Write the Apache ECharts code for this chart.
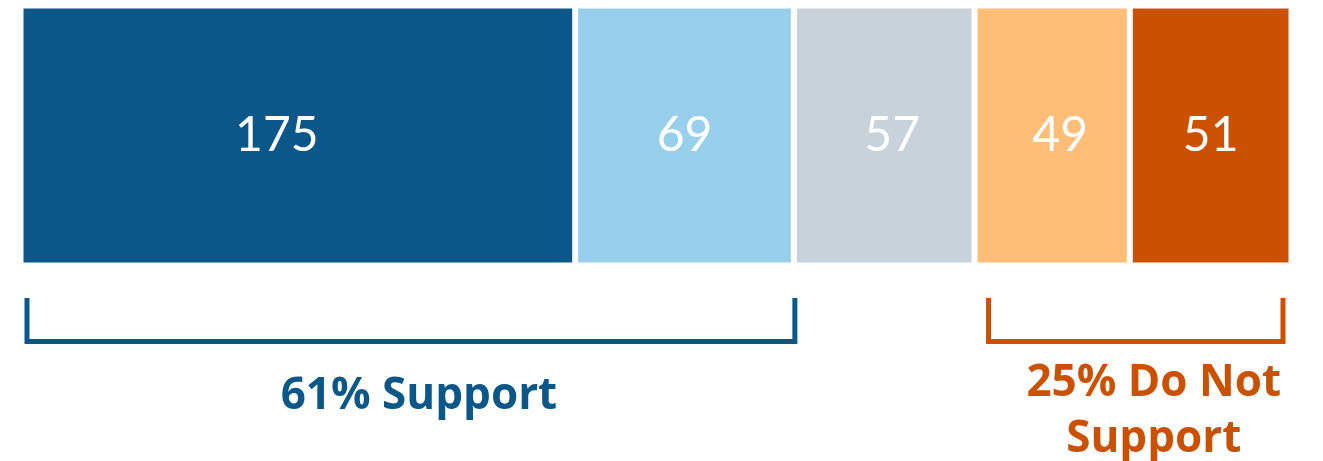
<!DOCTYPE html>
<html>
<head>
<meta charset="utf-8">
<script src="https://cdn.jsdelivr.net/npm/echarts@6/dist/echarts.min.js"></script>
<style>
  html, body { margin: 0; padding: 0; background: #ffffff; }
  #chart { width: 1323px; height: 461px; }
</style>
</head>
<body>
<div id="chart"></div>
<script>
// Response counts, left to right
const categories = ['Responses'];
const segmentNames = ['Strongly support', 'Somewhat support', 'Neutral', 'Somewhat oppose', 'Strongly oppose'];
const segmentValues = [175, 69, 57, 49, 51];

// Summary groups: which segments each bracket covers
const groupNames = ['Support', 'Do Not\nSupport'];
const groupFirst = [0, 3];
const groupLast = [1, 4];

const segmentColors = ['#0c5789', '#98cfec', '#c7d2db', '#ffbe77', '#cb5100'];
const groupColors = ['#0c5789', '#cb5100'];
const labelNudge = [-21, 0, 8, 8, 0];

const total = segmentValues.reduce((a, b) => a + b, 0);
const chart = echarts.init(document.getElementById('chart'), null, { renderer: 'canvas' });

const series = segmentValues.map((v, i) => ({
  name: segmentNames[i],
  type: 'bar',
  stack: 'all',
  barWidth: '100%',
  data: [v],
  itemStyle: { color: segmentColors[i], borderColor: '#ffffff', borderWidth: 3 },
  label: {
    show: true,
    position: 'inside',
    offset: [labelNudge[i], 0],
    color: '#ffffff',
    fontFamily: 'Lato',
    fontSize: 48,
    fontWeight: 'normal'
  },
  emphasis: { disabled: true },
  animation: false
}));

chart.setOption({
  animation: false,
  grid: { left: 20.5, width: 1271, top: 5.5, height: 260 },
  xAxis: { type: 'value', min: 0, max: total, show: false },
  yAxis: { type: 'category', data: categories, show: false },
  series: series
});

// Brackets and summary labels under the bar, placed from the value axis
const cumulative = [];
segmentValues.reduce((acc, v, i) => { cumulative[i] = [acc, acc + v]; return acc + v; }, 0);

const bracketTop = 298;
const bracketBottom = 341.5;
const inset = [[6.5, -1], [14, 8.5]];
const textPos = [{ dx: 8, y: 368 }, { dx: 18, y: 355 }];

const graphics = [];
groupNames.forEach((name, g) => {
  const from = cumulative[groupFirst[g]][0];
  const to = cumulative[groupLast[g]][1];
  let sum = 0;
  for (let i = groupFirst[g]; i <= groupLast[g]; i++) sum += segmentValues[i];
  const pct = Math.round(sum / total * 100);
  const x0 = chart.convertToPixel({ gridIndex: 0 }, [from, 0])[0] + inset[g][0];
  const x1 = chart.convertToPixel({ gridIndex: 0 }, [to, 0])[0] - inset[g][1];
  graphics.push({
    type: 'polyline',
    shape: { points: [[x0, bracketTop], [x0, bracketBottom], [x1, bracketBottom], [x1, bracketTop]] },
    style: { stroke: groupColors[g], lineWidth: 5, fill: null, lineJoin: 'miter' },
    silent: true
  });
  graphics.push({
    type: 'text',
    style: {
      text: pct + '% ' + name,
      x: (x0 + x1) / 2 + textPos[g].dx,
      y: textPos[g].y,
      fill: groupColors[g],
      fontFamily: 'Open Sans',
      fontWeight: 'bold',
      fontSize: 44,
      lineHeight: 56,
      align: 'center',
      verticalAlign: 'top'
    },
    silent: true
  });
});
chart.setOption({ graphic: graphics });
</script>
</body>
</html>
